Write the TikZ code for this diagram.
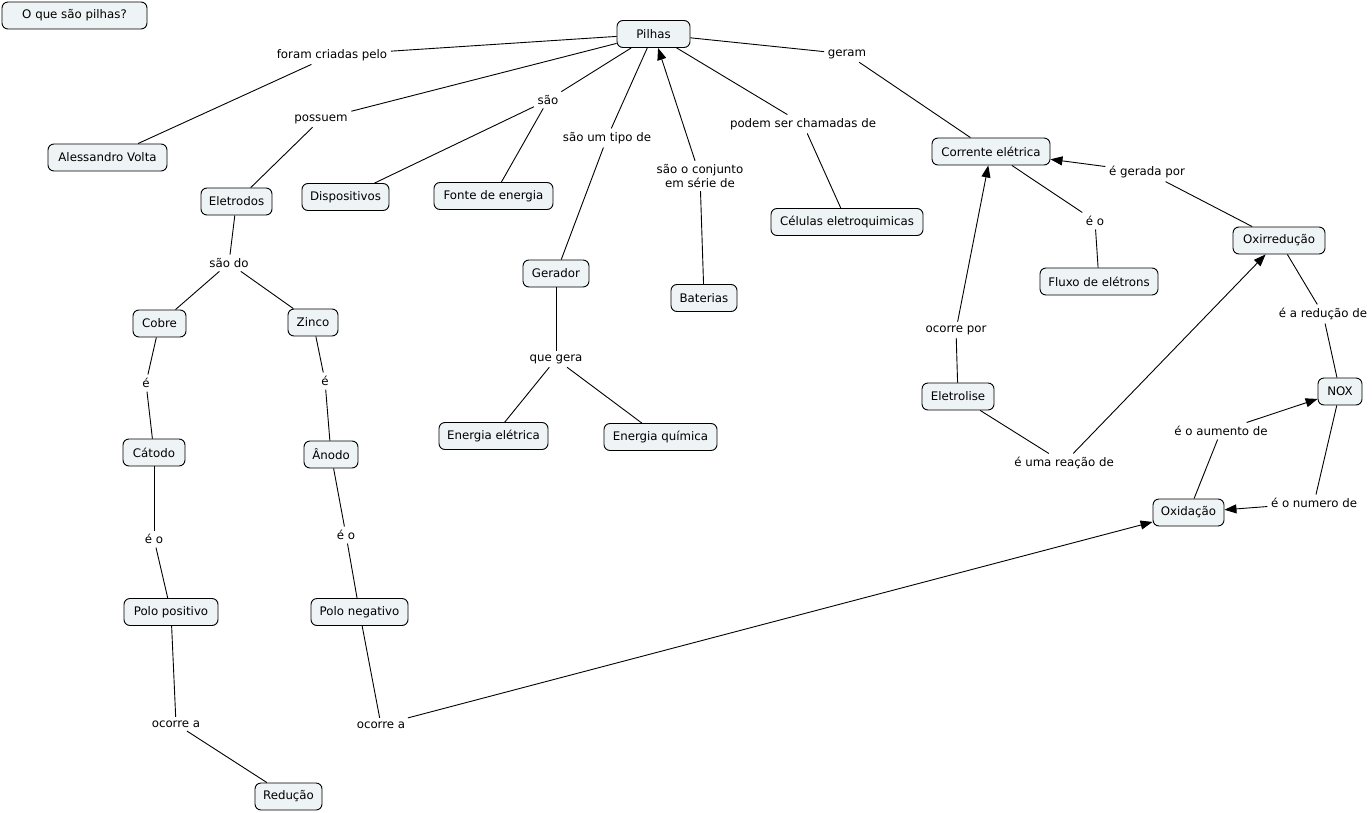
\documentclass[tikz,border=0pt]{standalone}
\usepackage{fontspec}
\setmainfont{DejaVu Sans}
\usetikzlibrary{arrows.meta}
\definecolor{boxfill}{HTML}{EEF3F5}
\begin{document}
\begin{tikzpicture}[x=1pt,y=-1pt,
  txt/.style={font=\fontsize{11.8}{13.5}\selectfont},
  concept/.style={txt,draw=black,line width=0.9pt,rounded corners=6pt,fill=boxfill,
    inner xsep=6pt,inner ysep=2pt,minimum height=27pt,minimum width=#1},
  concept/.default=40,
  link/.style={txt,inner sep=3.5pt,align=center},
  conn/.style={line width=0.9pt},
  arr/.style={conn,-{Triangle[length=12pt,width=9pt]}}]
\useasboundingbox[fill=white] (0,0) rectangle (1372,813);

% concepts
\node[concept=145] (q) at (74.5,15.5) {O que são pilhas?};
\node[concept=73] (pilhas) at (653.5,34) {Pilhas};
\node[concept=119] (volta) at (107.5,157.5) {Alessandro Volta};
\node[concept=71] (eletrodos) at (236.5,201.5) {Eletrodos};
\node[concept=87] (disp) at (345.5,197) {Dispositivos};
\node[concept=119] (fonte) at (493.5,196) {Fonte de energia};
\node[concept=66] (gerador) at (556,273.5) {Gerador};
\node[concept=66] (baterias) at (704,298) {Baterias};
\node[concept=152] (celulas) at (847,222) {Células eletroquimicas};
\node[concept=118] (corrente) at (991,151.5) {Corrente elétrica};
\node[concept=92] (oxirred) at (1279,240.5) {Oxirredução};
\node[concept=118] (fluxo) at (1099,281.5) {Fluxo de elétrons};
\node[concept=72] (eletrolise) at (958,396.5) {Eletrolise};
\node[concept=44] (nox) at (1340,391.5) {NOX};
\node[concept=71] (oxidacao) at (1188.5,512.5) {Oxidação};
\node[concept=53] (cobre) at (159.5,323.5) {Cobre};
\node[concept=50] (zinco) at (313,322.5) {Zinco};
\node[concept=62] (catodo) at (154,452.5) {Cátodo};
\node[concept=54] (anodo) at (331,454.5) {Ânodo};
\node[concept=94] (ppos) at (171,612) {Polo positivo};
\node[concept=97] (pneg) at (359.5,612) {Polo negativo};
\node[concept=109] (eelet) at (493.5,436) {Energia elétrica};
\node[concept=113] (equim) at (660.5,437) {Energia química};
\node[concept=67] (reducao) at (288.5,796.5) {Redução};

% linking phrases
\node[link] (l1) at (332,55) {foram criadas pelo};
\node[link] (l2) at (321,119) {possuem};
\node[link] (l3) at (548,100) {são};
\node[link] (l4) at (607,138) {são um tipo de};
\node[link] (l5) at (700,176) {são o conjunto\\em série de};
\node[link] (l6) at (803,124) {podem ser chamadas de};
\node[link] (l7) at (847,54) {geram};
\node[link] (l8) at (1147,172) {é gerada por};
\node[link] (l9) at (1095,221) {é o};
\node[link] (l10) at (1323,314) {é a redução de};
\node[link] (l11) at (956,330) {ocorre por};
\node[link] (l12) at (1064,463) {é uma reação de};
\node[link] (l13) at (1221,431) {é o aumento de};
\node[link] (l14) at (1314,503) {é o numero de};
\node[link] (l15) at (229,263) {são do};
\node[link] (l16) at (146,383) {é};
\node[link] (l17) at (325,381) {é};
\node[link] (l18) at (154,539) {é o};
\node[link] (l19) at (346,535) {é o};
\node[link] (l20) at (556,359) {que gera};
\node[link] (l21) at (176,724) {ocorre a};
\node[link] (l22) at (381,725) {ocorre a};

% connectors
\draw[conn] (pilhas) -- (l1);
\draw[conn] (l1) -- (volta);
\draw[conn] (pilhas) -- (l2);
\draw[conn] (l2) -- (eletrodos);
\draw[conn] (pilhas) -- (l3);
\draw[conn] (l3) -- (disp);
\draw[conn] (l3) -- (fonte);
\draw[conn] (pilhas) -- (l4);
\draw[conn] (l4) -- (gerador);
\draw[arr] (l5) -- (pilhas);
\draw[conn] (baterias) -- (l5);
\draw[conn] (pilhas) -- (l6);
\draw[conn] (l6) -- (celulas);
\draw[conn] (pilhas) -- (l7);
\draw[conn] (l7) -- (corrente);
\draw[conn] (oxirred) -- (l8);
\draw[arr] (l8) -- (corrente);
\draw[conn] (corrente) -- (l9);
\draw[conn] (l9) -- (fluxo);
\draw[conn] (eletrolise) -- (l11);
\draw[arr] (l11) -- (corrente);
\draw[conn] (eletrolise) -- (l12);
\draw[arr] (l12) -- (oxirred);
\draw[conn] (oxirred) -- (l10);
\draw[conn] (l10) -- (nox);
\draw[conn] (oxidacao) -- (l13);
\draw[arr] (l13) -- (nox);
\draw[conn] (nox) -- (l14);
\draw[arr] (l14) -- (oxidacao);
\draw[conn] (eletrodos) -- (l15);
\draw[conn] (l15) -- (cobre);
\draw[conn] (l15) -- (zinco);
\draw[conn] (cobre) -- (l16);
\draw[conn] (l16) -- (catodo);
\draw[conn] (zinco) -- (l17);
\draw[conn] (l17) -- (anodo);
\draw[conn] (catodo) -- (l18);
\draw[conn] (l18) -- (ppos);
\draw[conn] (anodo) -- (l19);
\draw[conn] (l19) -- (pneg);
\draw[conn] (ppos) -- (l21);
\draw[conn] (l21) -- (reducao);
\draw[conn] (pneg) -- (l22);
\draw[arr] (l22) -- (oxidacao);
\draw[conn] (gerador) -- (l20);
\draw[conn] (l20) -- (eelet);
\draw[conn] (l20) -- (equim);
\end{tikzpicture}
\end{document}
